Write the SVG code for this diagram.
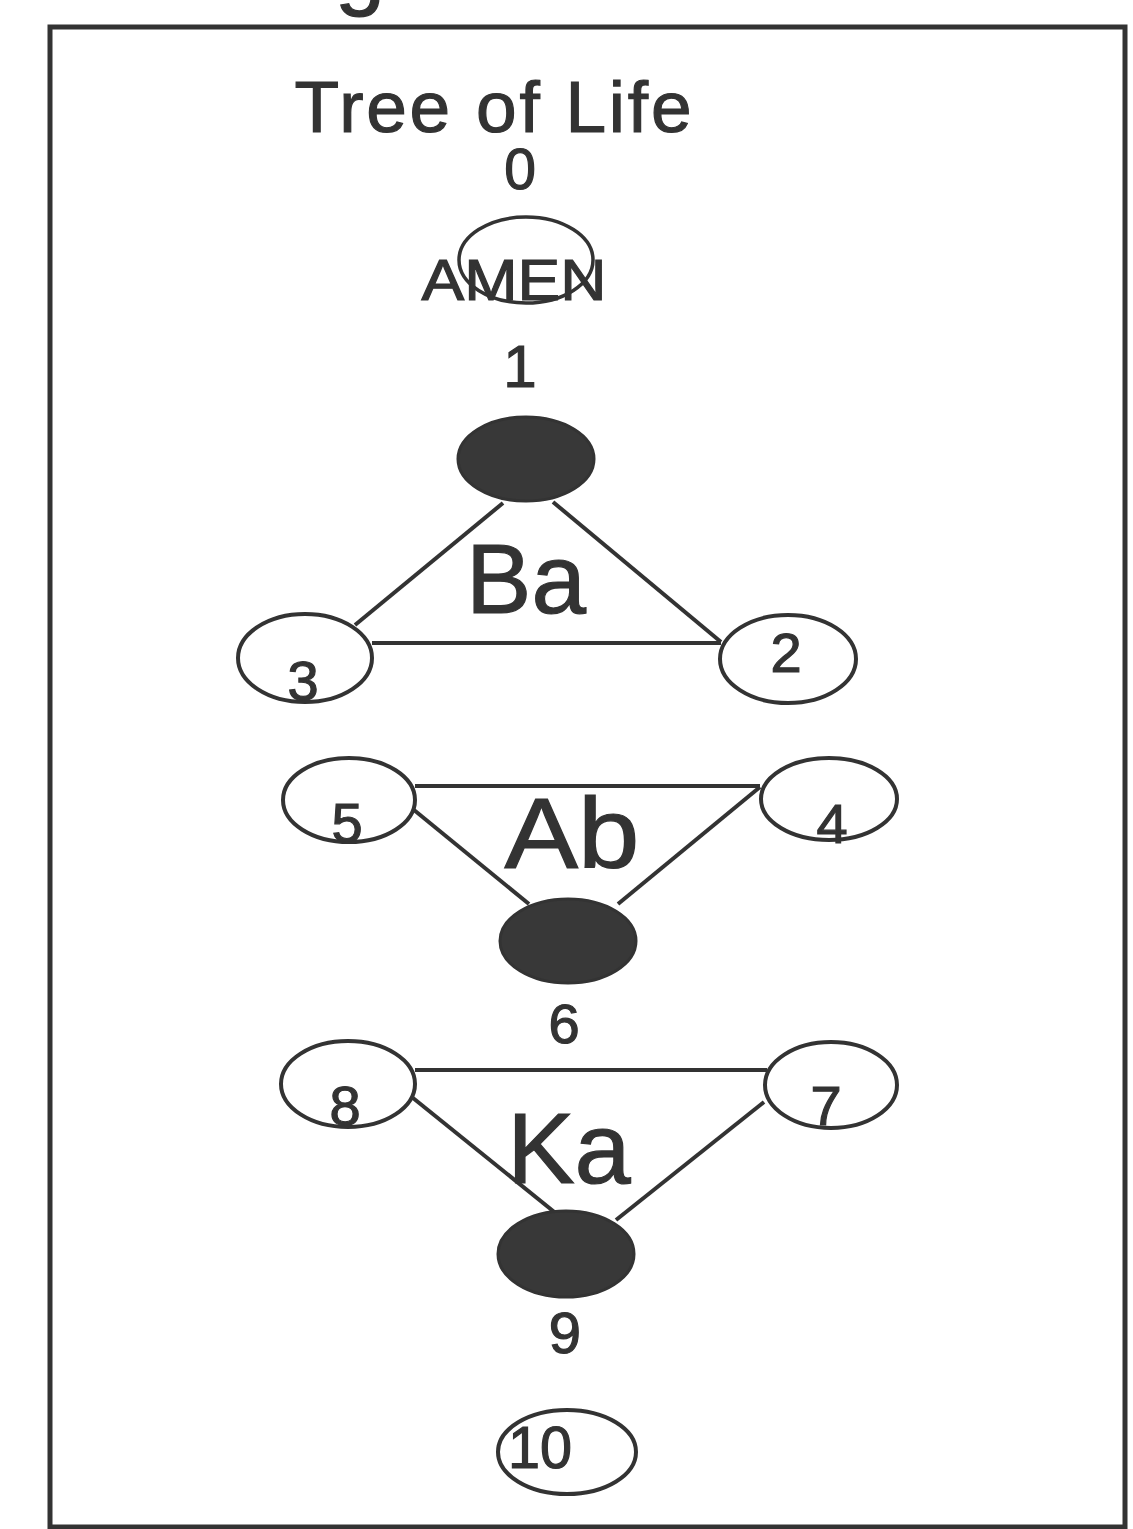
<svg xmlns="http://www.w3.org/2000/svg" width="1133" height="1529" viewBox="0 0 1133 1529">
<style>
text{font-family:"Liberation Sans",Arial,sans-serif;fill:#333;stroke:#333;stroke-width:1.2;text-anchor:middle}
.open{fill:#fff;stroke:#333;stroke-width:4}
.dark{fill:#383838;stroke:#333;stroke-width:3}
.con line{stroke:#333;stroke-width:4}
.num{font-size:56px}
.big{font-size:98px}
</style>
<rect width="1133" height="1529" fill="#fff"/>
<text x="360" y="-2" style="font-size:90px">g</text>
<rect x="50" y="27" width="1075" height="1500" fill="none" stroke="#333" stroke-width="5"/>
<text x="493" y="132" style="font-size:73px" textLength="397" lengthAdjust="spacing">Tree of Life</text>
<g id="connectors" class="con">
<line x1="503" y1="503" x2="355" y2="625"/>
<line x1="553" y1="502" x2="721" y2="642"/>
<line x1="372" y1="643" x2="721" y2="643"/>
<line x1="415" y1="786" x2="760" y2="786"/>
<line x1="414" y1="810" x2="529" y2="904"/>
<line x1="760" y1="787" x2="618" y2="904"/>
<line x1="415" y1="1070" x2="767" y2="1070"/>
<line x1="413" y1="1098" x2="558" y2="1215"/>
<line x1="764" y1="1102" x2="616" y2="1220"/>
</g>
<g id="node0">
<text x="520" y="189" style="font-size:57px">0</text>
<ellipse cx="526" cy="260" rx="67" ry="43" style="fill:none;stroke:#333;stroke-width:3.5"/>
<text x="514" y="300" style="font-size:58px" textLength="185" lengthAdjust="spacingAndGlyphs">AMEN</text>
</g>
<g id="node1">
<text x="520" y="387" style="font-size:60px">1</text>
<ellipse cx="526" cy="459" rx="68" ry="42" class="dark"/>
</g>
<g id="label-ba"><text x="526" y="613" class="big">Ba</text></g>
<g id="node3">
<ellipse cx="305" cy="658" rx="67" ry="44" class="open"/>
<text x="303" y="700" class="num">3</text>
</g>
<g id="node2">
<ellipse cx="788" cy="659" rx="68" ry="44" class="open"/>
<text x="786" y="672" class="num">2</text>
</g>
<g id="node5">
<ellipse cx="349" cy="800" rx="66" ry="42" class="open"/>
<text x="347" y="842" class="num">5</text>
</g>
<g id="node4">
<ellipse cx="829" cy="799" rx="68" ry="41" class="open"/>
<text x="832" y="843" class="num">4</text>
</g>
<g id="label-ab"><text x="572" y="868" class="big" style="font-size:100px" textLength="135" lengthAdjust="spacingAndGlyphs">Ab</text></g>
<g id="node6">
<ellipse cx="568" cy="941" rx="68" ry="42" class="dark"/>
<text x="564" y="1043" class="num">6</text>
</g>
<g id="node8">
<ellipse cx="348" cy="1084" rx="67" ry="43" class="open"/>
<text x="345" y="1125" class="num">8</text>
</g>
<g id="node7">
<ellipse cx="831" cy="1085" rx="66" ry="43" class="open"/>
<text x="826" y="1125" class="num">7</text>
</g>
<g id="label-ka"><text x="569" y="1183" class="big" style="font-size:101px">Ka</text></g>
<g id="node9">
<ellipse cx="566" cy="1254" rx="68" ry="43" class="dark"/>
<text x="565" y="1353" class="num" style="font-size:58px">9</text>
</g>
<g id="node10">
<ellipse cx="567" cy="1452" rx="69" ry="42" class="open"/>
<text x="540" y="1468" style="font-size:60px" textLength="64" lengthAdjust="spacingAndGlyphs">10</text>
</g>
</svg>
